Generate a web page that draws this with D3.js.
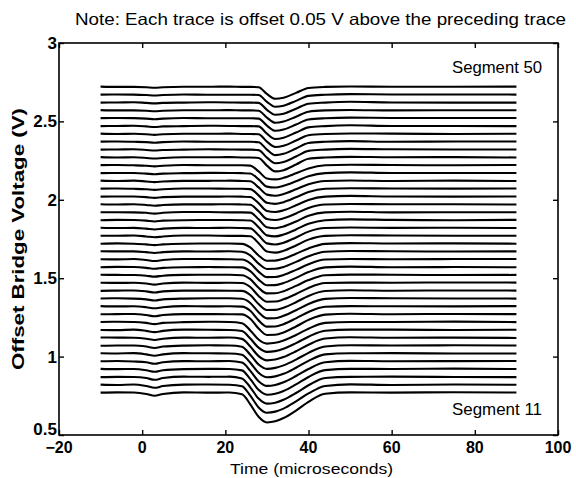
<!DOCTYPE html>
<html lang="en">
<head>
<meta charset="UTF-8">
<title>Offset bridge voltage traces</title>
<script src="https://d3js.org/d3.v7.min.js"></script>
<style>
    * { margin: 0; padding: 0; }
    body { background: #fff; }
    svg text { font-family: "Liberation Sans", Arial, sans-serif; fill: #000; }
    .axis path, .axis line { stroke: #000; }
</style>
</head>
<body>
<div id="content"></div>
<script>
// time axis of every trace (microseconds)
var times = [-10, -6, -2, 1, 3, 5, 10, 16, 21, 24, 26, 28, 30, 32, 34, 37, 40, 44, 50, 60, 75, 90];

// segment numbers, bottom to top
var segments = [11,12,13,14,15,16,17,18,19,20,21,22,23,24,25,26,27,28,29,30,
                31,32,33,34,35,36,37,38,39,40,41,42,43,44,45,46,47,48,49,50];

// baseline of each trace (V), 0.05 V apart
var baselines = [0.77,0.82,0.87,0.92,0.97,1.02,1.07,1.12,1.17,1.22,
                 1.27,1.32,1.37,1.42,1.47,1.52,1.57,1.62,1.67,1.72,
                 1.77,1.82,1.87,1.92,1.97,2.02,2.07,2.12,2.17,2.22,
                 2.27,2.32,2.37,2.42,2.47,2.52,2.57,2.62,2.67,2.72];

// deviation from baseline (mV) at each time, one row per segment
var traceMv = [
    [0, 2, 1, -8, -20, -8, 2, 0, 1, -10, -74, -154, -190, -183, -162, -114, -59, -7, 2, 0, 3, 1],
    [1, -1, 2, -8, -19, -8, 1, 2, 0, -9, -69, -144, -178, -171, -152, -106, -55, -7, 3, -1, 2, 0],
    [-1, 1, 0, -7, -18, -7, 2, 1, 2, -9, -66, -138, -170, -164, -145, -102, -53, -6, 1, 2, 0, -1],
    [2, 0, 1, -7, -17, -7, 0, 2, 1, -8, -64, -132, -163, -157, -139, -97, -50, -6, 2, 1, 3, 1],
    [0, 2, -1, -6, -16, -6, 1, 0, 2, -8, -61, -127, -157, -151, -134, -94, -49, -6, 3, 0, 1, 2],
    [1, 0, 2, -6, -15, -6, 2, 1, 0, -8, -59, -123, -152, -146, -130, -91, -47, -6, 1, 2, 0, 0],
    [-1, 1, 1, -6, -15, -6, 0, 2, 1, -7, -58, -120, -148, -142, -126, -89, -46, -6, 2, 1, 2, 1],
    [2, 1, 0, -6, -14, -6, 1, 0, 2, -7, -56, -117, -144, -139, -123, -86, -44, -5, 3, 0, 1, -1],
    [0, -1, 2, -6, -14, -6, 2, 1, 0, -7, -55, -113, -140, -135, -120, -84, -43, -5, 2, 2, 0, 1],
    [1, 2, 1, -5, -13, -5, 0, 2, 1, -7, -53, -111, -137, -132, -117, -82, -42, -5, 1, 1, 3, 0],
    [0, 1, 2, -5, -13, -5, 1, 1, 0, -1, -29, -91, -132, -131, -116, -78, -36, -2, 3, 0, 2, 1],
    [2, 0, 1, -5, -12, -5, 2, 0, 1, -1, -28, -89, -129, -128, -113, -76, -35, -2, 2, 1, 0, 2],
    [1, 2, 0, -5, -12, -5, 0, 2, 2, -1, -28, -87, -126, -125, -110, -74, -34, -2, 4, 2, 1, 0],
    [-1, 1, 2, -4, -11, -4, 1, 1, 0, -1, -27, -85, -123, -122, -108, -73, -33, -2, 3, 0, 2, 1],
    [1, 0, 1, -4, -11, -4, 2, 0, 1, -1, -26, -83, -120, -119, -105, -71, -32, -1, 2, 1, 3, 2],
    [2, 1, 0, -4, -10, -4, 1, 2, 2, -1, -26, -81, -117, -116, -103, -69, -32, -1, 3, 2, 0, 1],
    [0, 2, 1, -4, -10, -4, 0, 1, 0, -1, -25, -79, -115, -114, -101, -68, -31, -1, 4, 0, 1, 0],
    [1, 0, 2, -4, -10, -4, 2, 2, 1, -1, -25, -78, -113, -112, -99, -67, -31, -1, 2, 1, 2, 2],
    [2, 1, 1, -4, -9, -4, 1, 0, 2, -1, -24, -77, -111, -110, -98, -66, -30, -1, 3, 2, 0, 1],
    [0, 2, 0, -4, -9, -4, 0, 1, 1, -1, -24, -75, -109, -108, -96, -64, -30, -1, 4, 1, 2, 0],
    [1, 1, 2, -4, -9, -4, 2, 2, 0, 0, -2, -47, -100, -107, -95, -61, -24, 0, 4, 2, 1, 1],
    [2, 0, 1, -4, -9, -4, 1, 0, 2, 0, -2, -46, -98, -105, -94, -60, -23, 0, 3, 1, 2, 0],
    [0, 2, 1, -3, -8, -3, 0, 1, 1, 0, -2, -45, -97, -103, -92, -59, -23, 0, 5, 2, 0, 2],
    [1, 1, 0, -3, -8, -3, 2, 2, 0, 0, -2, -44, -95, -101, -90, -58, -22, 0, 4, 0, 1, 1],
    [2, 0, 2, -3, -8, -3, 1, 1, 2, 0, -2, -43, -93, -99, -88, -57, -22, 0, 3, 2, 2, 0],
    [0, 1, 1, -3, -8, -3, 0, 0, 1, 0, -2, -42, -91, -98, -87, -55, -21, 0, 5, 1, 0, 1],
    [1, 2, 0, -3, -7, -3, 2, 2, 0, 0, -2, -42, -89, -96, -85, -54, -21, 0, 4, 2, 1, 2],
    [2, 0, 2, -3, -7, -3, 1, 1, 2, 0, -2, -41, -87, -94, -83, -53, -21, 0, 3, 0, 2, 0],
    [0, 1, 1, -3, -7, -3, 0, 2, 1, 0, -2, -40, -86, -92, -81, -52, -20, 0, 5, 1, 1, 1],
    [1, 2, 0, -3, -7, -3, 2, 0, 0, 0, -2, -39, -84, -90, -80, -51, -20, 0, 4, 2, 0, 2],
    [2, 0, 1, -3, -7, -3, 1, 1, 2, 0, 0, -3, -52, -89, -81, -45, -8, 0, 4, 1, 2, 0],
    [0, 1, 2, -2, -6, -2, 0, 2, 1, 0, 0, -3, -51, -87, -79, -44, -8, 0, 5, 2, 1, 1],
    [1, 2, 0, -2, -6, -2, 2, 0, 0, 0, 0, -3, -50, -85, -77, -43, -8, 0, 4, 0, 2, 2],
    [2, 0, 1, -2, -6, -2, 1, 1, 2, 0, 0, -2, -49, -83, -75, -42, -8, 0, 3, 2, 0, 1],
    [0, 1, 2, -2, -6, -2, 0, 2, 1, 0, 0, -2, -48, -82, -74, -41, -8, 0, 5, 1, 1, 0],
    [1, 2, 1, -2, -6, -2, 2, 0, 0, 0, 0, -2, -47, -80, -72, -40, -8, 0, 4, 2, 2, 2],
    [2, 0, 0, -2, -5, -2, 1, 1, 2, 0, 0, -2, -46, -79, -71, -40, -8, 0, 3, 0, 1, 1],
    [0, 1, 2, -2, -5, -2, 0, 2, 1, 0, 0, -2, -46, -78, -71, -39, -7, 0, 5, 1, 0, 0],
    [1, 2, 1, -2, -5, -2, 2, 0, 0, 0, 0, -2, -45, -77, -70, -39, -7, 0, 4, 2, 2, 1],
    [2, 0, 0, -2, -5, -2, 1, 1, 2, 0, 0, -2, -45, -76, -69, -38, -7, 0, 3, 1, 1, 2]
];

var xTicks = [-20, 0, 20, 40, 60, 80, 100];
var yTicks = [0.5, 1, 1.5, 2, 2.5, 3];

var titleText = "Note:  Each trace is offset 0.05 V above the preceding trace";
var xLabel = "Time (microseconds)";
var yLabel = "Offset Bridge Voltage (V)";

var width = 576;
var height = 478;
var padding = {top: 43, right: 18, bottom: 43, left: 59};

var svg = d3.select("#content").append("svg")
        .attr("width", width).attr("height", height);

var xScale = d3.scaleLinear().domain([-20, 100])
        .range([padding.left, width - padding.right]);
var yScale = d3.scaleLinear().domain([0.5, 3])
        .range([height - padding.bottom, padding.top]);

/* traces */
var line = d3.line()
        .x(function(d){ return xScale(d[0]); })
        .y(function(d){ return yScale(d[1]); })
        .curve(d3.curveMonotoneX);

svg.append("g").selectAll("path")
    .data(traceMv)
    .enter().append("path")
    .attr("d", function(row, i){
        return line(row.map(function(mv, j){ return [times[j], baselines[i] + mv / 1000]; }));
    })
    .attr("fill", "none")
    .attr("stroke", "#000")
    .attr("stroke-width", 2.1)
    .attr("stroke-linejoin", "round");

/* axes, ticks pointing inward like matlab */
var x0 = xScale.range()[0], x1 = xScale.range()[1];
var y0 = yScale.range()[0], y1 = yScale.range()[1];

svg.append("g").attr("class", "axis")
    .attr("transform", "translate(0," + y0 + ")")
    .call(d3.axisBottom(xScale).tickValues(xTicks).tickSizeInner(-5).tickSizeOuter(0).tickFormat(""))
    .call(function(g){ g.select(".domain").remove(); });
svg.append("g").attr("class", "axis")
    .attr("transform", "translate(0," + y1 + ")")
    .call(d3.axisTop(xScale).tickValues(xTicks).tickSizeInner(-5).tickSizeOuter(0).tickFormat(""))
    .call(function(g){ g.select(".domain").remove(); });
svg.append("g").attr("class", "axis")
    .attr("transform", "translate(" + x0 + ",0)")
    .call(d3.axisLeft(yScale).tickValues(yTicks).tickSizeInner(-5).tickSizeOuter(0).tickFormat(""))
    .call(function(g){ g.select(".domain").remove(); });
svg.append("g").attr("class", "axis")
    .attr("transform", "translate(" + x1 + ",0)")
    .call(d3.axisRight(yScale).tickValues(yTicks).tickSizeInner(-5).tickSizeOuter(0).tickFormat(""))
    .call(function(g){ g.select(".domain").remove(); });
svg.selectAll(".axis line").attr("stroke-width", 1.4);

svg.append("rect")
    .attr("x", x0).attr("y", y1)
    .attr("width", x1 - x0).attr("height", y0 - y1)
    .attr("fill", "none").attr("stroke", "#000").attr("stroke-width", 1.6);

/* tick labels */
svg.append("g").selectAll("text")
    .data(xTicks).enter().append("text")
    .attr("x", function(d){ return xScale(d); })
    .attr("y", y0 + 18)
    .attr("text-anchor", "middle")
    .attr("font-size", 16)
    .attr("font-weight", "bold")
    .text(function(d){ return d < 0 ? "\u2212" + (-d) : d; });

svg.append("g").selectAll("text")
    .data(yTicks).enter().append("text")
    .attr("x", x0 - 2)
    .attr("y", function(d){ return yScale(d) + (d === 0.5 ? 0 : 6); })
    .attr("text-anchor", "end")
    .attr("font-size", 17)
    .attr("font-weight", "bold")
    .text(function(d){ return d; });

/* titles */
svg.append("text")
    .attr("x", 75).attr("y", 25)
    .attr("font-size", 16.5)
    .attr("textLength", 491)
    .attr("lengthAdjust", "spacingAndGlyphs")
    .text(titleText);

svg.append("text")
    .attr("x", 230).attr("y", y0 + 39)
    .attr("font-size", 15.5)
    .attr("textLength", 163)
    .attr("lengthAdjust", "spacingAndGlyphs")
    .text(xLabel);

svg.append("text")
    .attr("transform", "translate(24," + ((y0 + y1) / 2) + ") rotate(-90)")
    .attr("text-anchor", "middle")
    .attr("font-size", 16)
    .attr("font-weight", "bold")
    .attr("textLength", 262)
    .attr("lengthAdjust", "spacingAndGlyphs")
    .text(yLabel);

/* segment labels */
svg.append("text")
    .attr("x", 452).attr("y", 73)
    .attr("font-size", 16.5)
    .attr("textLength", 90)
    .attr("lengthAdjust", "spacingAndGlyphs")
    .text("Segment " + segments[segments.length - 1]);
svg.append("text")
    .attr("x", 452).attr("y", 415)
    .attr("font-size", 16.5)
    .attr("textLength", 90)
    .attr("lengthAdjust", "spacingAndGlyphs")
    .text("Segment " + segments[0]);
</script>
</body>
</html>
